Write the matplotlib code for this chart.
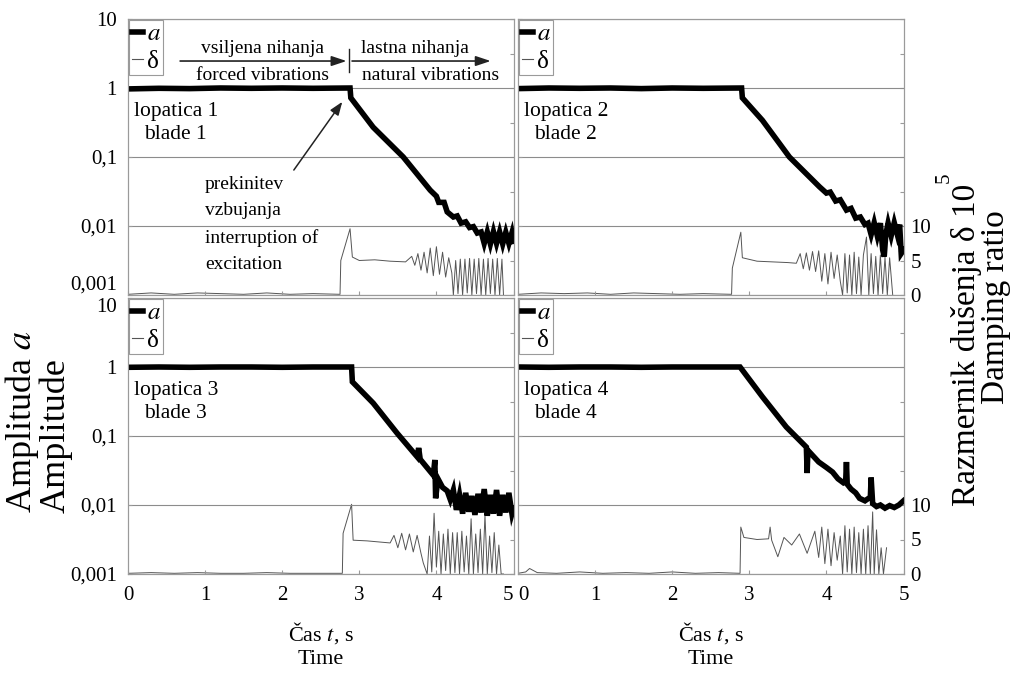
import matplotlib
matplotlib.use("Agg")
import matplotlib.pyplot as plt
from matplotlib.lines import Line2D
from matplotlib.ticker import FixedLocator, NullLocator

plt.rcParams["font.family"] = ["Liberation Serif", "DejaVu Serif"]
plt.rcParams["mathtext.fontset"] = "stix"

# amplitude a (log scale) and damping ratio delta*10^5, per blade
A1_T = [0.0, 0.4, 0.8, 1.2, 1.6, 2.0, 2.4, 2.88, 2.89, 3.18, 3.57, 3.92, 4.00, 4.03, 4.10, 4.14, 4.22, 4.27,
        4.32, 4.38, 4.43, 4.48, 4.53, 4.58, 4.62, 4.66, 4.70, 4.74, 4.78, 4.82, 4.86, 4.90, 4.94, 4.98, 5.0]
A1 = [0.97, 0.99, 0.98, 1.0, 0.99, 1.0, 0.99, 1.0, 0.72, 0.27, 0.10, 0.033, 0.027, 0.022, 0.022, 0.016, 0.0135,
      0.014, 0.011, 0.0115, 0.0095, 0.0098, 0.0079, 0.0082, 0.0056, 0.0082, 0.0055, 0.0083, 0.0056, 0.0082,
      0.0055, 0.0081, 0.0056, 0.0080, 0.0060]
D1_T = [0.0, 0.3, 0.6, 0.9, 1.2, 1.5, 1.8, 2.1, 2.4, 2.75, 2.76, 2.88, 2.91, 3.0, 3.2, 3.4, 3.6, 3.68, 3.72,
        3.76, 3.80, 3.84, 3.88, 3.92, 3.96, 4.00, 4.04, 4.08, 4.12, 4.16, 4.20, 4.22, 4.25, 4.28, 4.31, 4.34,
        4.37, 4.40, 4.43, 4.46, 4.49, 4.52, 4.55, 4.58, 4.61, 4.64, 4.67, 4.70, 4.73, 4.76, 4.79, 4.82, 4.85, 4.87]
D1 = [0.1, 0.3, 0.1, 0.3, 0.2, 0.1, 0.3, 0.1, 0.2, 0.1, 5.0, 9.6, 5.5, 5.0, 5.1, 4.9, 4.8, 5.6, 4.3, 6.0, 3.6,
      6.2, 3.2, 6.8, 2.8, 7.0, 3.0, 6.2, 2.6, 5.4, 3.2, 0.0, 5.0, 0.2, 5.2, 0.0, 5.2, 0.3, 5.3, 0.0, 5.2, 0.2,
      5.3, 0.0, 5.2, 0.0, 5.3, 0.2, 5.2, 0.0, 5.3, 0.0, 5.2, 0.0]

A2_T = [0.0, 0.4, 0.8, 1.2, 1.6, 2.0, 2.4, 2.90, 2.91, 3.17, 3.52, 3.91, 4.00, 4.05, 4.12, 4.18, 4.26, 4.32,
        4.38, 4.44, 4.50, 4.54, 4.58, 4.62, 4.66, 4.70, 4.73, 4.75, 4.77, 4.80, 4.84, 4.88, 4.92, 4.95, 4.97, 5.0]
A2 = [0.98, 1.0, 0.99, 1.0, 0.98, 1.0, 0.99, 1.0, 0.72, 0.34, 0.10, 0.037, 0.030, 0.031, 0.023, 0.024, 0.017,
      0.018, 0.013, 0.0135, 0.0105, 0.0110, 0.0075, 0.0112, 0.0072, 0.0110, 0.0045, 0.0036, 0.0075, 0.0110,
      0.0072, 0.0112, 0.0075, 0.0105, 0.0040, 0.0045]
D2_T = [0.0, 0.3, 0.6, 0.9, 1.2, 1.5, 1.8, 2.1, 2.4, 2.77, 2.78, 2.89, 2.91, 3.1, 3.3, 3.5, 3.61, 3.66, 3.70,
        3.74, 3.78, 3.82, 3.86, 3.90, 3.94, 3.98, 4.02, 4.06, 4.10, 4.14, 4.18, 4.21, 4.24, 4.27, 4.30, 4.33,
        4.36, 4.39, 4.42, 4.45, 4.48, 4.52, 4.55, 4.58, 4.61, 4.64, 4.67, 4.70, 4.73, 4.76, 4.79, 4.82, 4.86]
D2 = [0.1, 0.3, 0.2, 0.3, 0.1, 0.3, 0.2, 0.1, 0.2, 0.1, 3.9, 9.1, 5.4, 4.9, 4.8, 4.7, 4.6, 6.0, 3.8, 6.1, 3.6,
      6.3, 3.4, 6.4, 2.0, 6.0, 1.6, 6.2, 2.4, 5.8, 2.0, 0.0, 6.0, 0.3, 5.8, 0.0, 6.2, 0.2, 5.5, 0.0, 5.8, 8.4,
      0.0, 6.0, 0.2, 5.6, 0.0, 5.8, 0.2, 5.5, 0.0, 5.4, 0.0]

A3_T = [0.0, 0.4, 0.8, 1.2, 1.6, 2.0, 2.4, 2.90, 2.91, 3.18, 3.49, 3.75, 3.77, 3.79, 3.96, 3.98, 3.99, 4.02,
        4.08, 4.14, 4.18, 4.22, 4.26, 4.30, 4.34, 4.38, 4.42, 4.46, 4.50, 4.54, 4.58, 4.62, 4.66, 4.70, 4.74,
        4.78, 4.82, 4.86, 4.90, 4.94, 4.98, 5.0]
A3 = [0.99, 1.0, 0.99, 1.0, 1.0, 0.99, 1.0, 1.0, 0.61, 0.30, 0.11, 0.050, 0.067, 0.046, 0.027, 0.045, 0.0125,
      0.024, 0.018, 0.016, 0.012, 0.0165, 0.0085, 0.014, 0.0075, 0.0150, 0.0080, 0.0135, 0.0072, 0.0145,
      0.0078, 0.0170, 0.0070, 0.0140, 0.0075, 0.0165, 0.0070, 0.0140, 0.0078, 0.0150, 0.0075, 0.0090]
D3_T = [0.0, 0.3, 0.6, 0.9, 1.2, 1.5, 1.8, 2.1, 2.4, 2.78, 2.79, 2.90, 2.92, 3.1, 3.3, 3.4, 3.45, 3.50, 3.55,
        3.60, 3.65, 3.70, 3.75, 3.80, 3.83, 3.88, 3.91, 3.94, 3.97, 4.00, 4.03, 4.06, 4.09, 4.12, 4.15, 4.18,
        4.21, 4.24, 4.27, 4.30, 4.33, 4.36, 4.39, 4.42, 4.45, 4.48, 4.51, 4.54, 4.57, 4.60, 4.63, 4.66, 4.69,
        4.72, 4.75, 4.78, 4.81, 4.84, 4.87]
D3 = [0.1, 0.2, 0.1, 0.2, 0.1, 0.1, 0.2, 0.1, 0.1, 0.1, 5.9, 10.1, 4.9, 4.8, 4.6, 4.5, 5.6, 3.8, 5.9, 3.5, 5.8,
      3.2, 5.6, 3.0, 1.6, 0.0, 5.5, 0.3, 8.8, 1.0, 6.2, 0.0, 5.8, 0.5, 6.5, 0.0, 6.0, 0.2, 6.0, 0.0, 6.2, 0.3,
      5.5, 0.0, 8.0, 0.0, 5.8, 0.2, 6.5, 0.0, 8.6, 0.0, 5.5, 0.2, 6.0, 0.0, 4.2, 0.0, 0.0]

A4_T = [0.0, 0.4, 0.8, 1.2, 1.6, 2.0, 2.4, 2.88, 3.17, 3.48, 3.74, 3.75, 3.76, 3.90, 4.00, 4.08, 4.15, 4.22,
        4.25, 4.26, 4.27, 4.32, 4.38, 4.43, 4.50, 4.57, 4.58, 4.60, 4.65, 4.70, 4.76, 4.82, 4.88, 4.94, 5.0]
A4 = [1.0, 0.99, 1.0, 1.0, 0.99, 1.0, 1.0, 1.0, 0.37, 0.135, 0.069, 0.029, 0.062, 0.042, 0.035, 0.030, 0.024,
      0.021, 0.022, 0.042, 0.020, 0.017, 0.015, 0.0125, 0.0115, 0.013, 0.025, 0.0105, 0.0095, 0.0100, 0.0090,
      0.0098, 0.0092, 0.0100, 0.0115]
D4_T = [0.0, 0.1, 0.15, 0.25, 0.5, 0.8, 1.1, 1.4, 1.7, 2.0, 2.3, 2.6, 2.88, 2.89, 2.93, 3.1, 3.25, 3.27, 3.29,
        3.37, 3.45, 3.55, 3.65, 3.75, 3.85, 3.90, 3.94, 3.98, 4.02, 4.06, 4.10, 4.14, 4.18, 4.21, 4.24, 4.27,
        4.30, 4.33, 4.36, 4.39, 4.42, 4.45, 4.48, 4.51, 4.54, 4.57, 4.60, 4.62, 4.65, 4.68, 4.71, 4.74, 4.78]
D4 = [0.1, 0.3, 0.8, 0.2, 0.1, 0.3, 0.1, 0.2, 0.1, 0.3, 0.1, 0.2, 0.1, 6.8, 5.3, 5.0, 5.1, 6.8, 4.9, 2.5, 5.3,
      4.2, 5.8, 3.0, 6.2, 2.4, 6.8, 1.5, 6.5, 1.2, 6.0, 2.0, 5.5, 0.0, 7.0, 0.3, 6.5, 0.0, 6.8, 0.2, 6.0, 0.0,
      6.5, 0.0, 7.0, 0.0, 9.0, 0.0, 6.4, 0.0, 3.8, 0.0, 3.8]

PANELS = [
    (A1_T, A1, D1_T, D1, "lopatica 1\nblade 1"),
    (A2_T, A2, D2_T, D2, "lopatica 2\nblade 2"),
    (A3_T, A3, D3_T, D3, "lopatica 3\nblade 3"),
    (A4_T, A4, D4_T, D4, "lopatica 4\nblade 4"),
]

Y_TICKS = [0.001, 0.01, 0.1, 1, 10]
Y_LABELS = ["0,001", "0,01", "0,1", "1", "10"]
X_TICKS = [0, 1, 2, 3, 4, 5]
D_TICKS = list(range(0, 45, 5))

EDGE = "#9a9a9a"
GRID = "#8c8c8c"
DAMP = "#555555"
TICK_FS = 15

fig = plt.figure(figsize=(10.13, 6.75), dpi=100)
lefts = [128 / 1013, 518 / 1013]
width = 385.5 / 1013
bottoms = [1 - 295 / 675, 1 - 574 / 675]
height = 276 / 675

for i, (at, a, dt, d, blade) in enumerate(PANELS):
    row, col = divmod(i, 2)
    ax = fig.add_axes([lefts[col], bottoms[row], width, height])
    ax2 = ax.twinx()
    ax.set_zorder(ax2.get_zorder() + 1)
    ax.patch.set_visible(False)

    ax2.plot(dt, d, color=DAMP, lw=0.7)
    ax2.set_ylim(0, 40)
    ax2.yaxis.set_major_locator(FixedLocator(D_TICKS))
    if col == 1:
        ax2.set_yticklabels([str(v) if v <= 10 else "" for v in D_TICKS], fontsize=TICK_FS)
    else:
        ax2.set_yticklabels([])
    ax2.tick_params(axis="y", direction="in", length=3, color=EDGE, pad=5)

    ax.plot(at, a, color="black", lw=4, solid_joinstyle="miter")
    ax.set_yscale("log")
    ax.set_ylim(0.001, 10)
    ax.set_xlim(0, 5)
    ax.yaxis.set_major_locator(FixedLocator(Y_TICKS))
    ax.yaxis.set_minor_locator(NullLocator())
    ax.set_xticks(X_TICKS)
    ax.yaxis.grid(True, which="major", color=GRID, lw=0.8)
    ax.tick_params(direction="in", length=3, color=EDGE, labelsize=TICK_FS)
    ax.tick_params(axis="y", pad=8)

    if col == 0:
        labels = ax.set_yticklabels(Y_LABELS)
        if row == 0:
            labels[0].set_va("bottom")
        else:
            labels[-1].set_va("top")
    else:
        ax.set_yticklabels([])

    if row == 1:
        xl = ax.set_xticklabels([str(v) for v in X_TICKS])
        if col == 0:
            xl[-1].set_ha("right")
        else:
            xl[0].set_ha("left")
        ax.tick_params(axis="x", pad=9)
        ax.text(0.5, -0.214, "Čas $t$, s", transform=ax.transAxes, ha="center", va="center", fontsize=16)
        ax.text(0.5, -0.31, "Time", transform=ax.transAxes, ha="center", va="center", fontsize=16)
    else:
        ax.set_xticklabels([])

    for ax_ in (ax, ax2):
        for s in ax_.spines.values():
            s.set_color(EDGE)
            s.set_linewidth(0.8)

    handles = [Line2D([], [], color="black", lw=4), Line2D([], [], color=DAMP, lw=0.8)]
    leg = ax.legend(handles, ["$a$", "δ"], loc="upper left", fontsize=18, handlelength=0.45,
                    handletextpad=0.15, borderpad=0.1, labelspacing=0.2, borderaxespad=0.05,
                    fancybox=False, framealpha=1)
    leg.get_frame().set_edgecolor(EDGE)
    leg.get_frame().set_linewidth(0.8)

    ax.text(0.62, 0.31, blade, ha="center", va="center", fontsize=15.5, linespacing=1.25)

    if i == 0:
        ax.annotate("", xy=(2.87, 2.46), xytext=(0.64, 2.46),
                    arrowprops=dict(arrowstyle="-|>,head_length=0.9,head_width=0.3", color="#222", lw=1.2))
        ax.annotate("", xy=(4.74, 2.46), xytext=(2.87, 2.46),
                    arrowprops=dict(arrowstyle="-|>,head_length=0.9,head_width=0.3", color="#222", lw=1.2))
        ax.plot([2.87, 2.87], [1.7, 3.7], color="#222", lw=1.0)
        ax.text(1.75, 3.75, "vsiljena nihanja", ha="center", va="center", fontsize=14)
        ax.text(1.75, 1.5, "forced vibrations", ha="center", va="center", fontsize=14)
        ax.text(3.72, 3.75, "lastna nihanja", ha="center", va="center", fontsize=14)
        ax.text(3.92, 1.5, "natural vibrations", ha="center", va="center", fontsize=14)
        ax.annotate("", xy=(2.8, 0.68), xytext=(2.13, 0.06),
                    arrowprops=dict(arrowstyle="-|>,head_length=0.8,head_width=0.3", color="#222", lw=1.1))
        ax.text(1.0, 0.0105, "prekinitev\nvzbujanja\ninterruption of\nexcitation",
                ha="left", va="center", fontsize=14, linespacing=1.7)

fig.text(22 / 1013, 1 - 513 / 675, "Amplituda $a$", rotation=90, ha="center", va="bottom", fontsize=26)
fig.text(56 / 1013, 1 - 513 / 675, "Amplitude", rotation=90, ha="center", va="bottom", fontsize=26)
fig.text(966 / 1013, 1 - 345 / 675, "Razmernik dušenja δ 10", rotation=90, ha="center", va="center",
         fontsize=24)
fig.text(944 / 1013, 1 - 178 / 675, "5", rotation=90, ha="center", va="center", fontsize=15)
fig.text(996 / 1013, 1 - 307 / 675, "Damping ratio", rotation=90, ha="center", va="center", fontsize=24)

fig.savefig("out.png", dpi=100)
